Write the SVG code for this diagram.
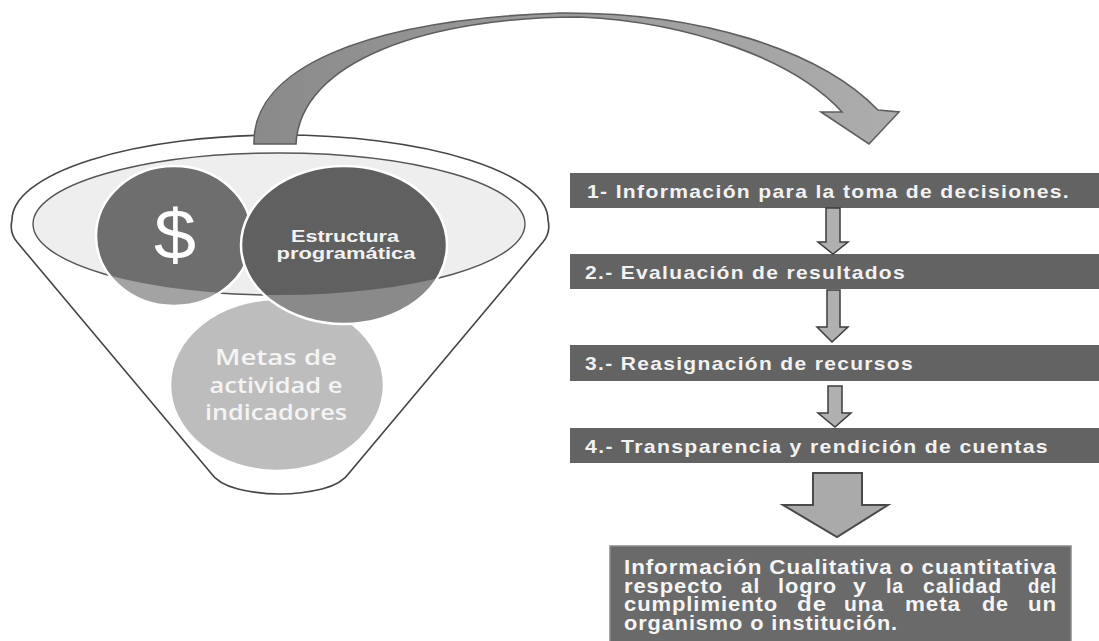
<svg xmlns="http://www.w3.org/2000/svg" width="1099" height="641" viewBox="0 0 1099 641">
<style>
.bar{fill:#636363;}
.bartxt{font-family:"Liberation Sans",Arial,sans-serif;font-weight:bold;font-size:19px;fill:#f2f2f2;letter-spacing:1.2px;}
.boxtxt{font-family:"Liberation Sans",Arial,sans-serif;font-weight:bold;font-size:19.5px;fill:#f5f5f5;letter-spacing:0.8px;}
.small{fill:#b0b0b0;stroke:#3c3c3c;stroke-width:1.5;stroke-linejoin:miter;}
.ring{fill:none;stroke:#ffffff;stroke-width:2.5;}
</style>
<defs>
<clipPath id="inner"><ellipse cx="279" cy="224" rx="246" ry="71"/></clipPath>
<linearGradient id="arrowGrad" x1="250" y1="0" x2="900" y2="0" gradientUnits="userSpaceOnUse">
<stop offset="0" stop-color="#8a8a8a"/>
<stop offset="1" stop-color="#adadad"/>
</linearGradient>
</defs>
<rect width="1099" height="641" fill="#ffffff"/>

<g id="funnel">
<path d="M 17,242 Q 9,232 12,220 A 268 85 0 0 1 548,220 Q 551,232 543,242 L 350,472 Q 342,484 322,489 Q 280,499 238,489 Q 218,484 210,472 Z" fill="#ffffff" stroke="#454545" stroke-width="1.6"/>
<ellipse cx="279" cy="224" rx="246" ry="71" fill="#eeeeee" stroke="#555555" stroke-width="1.4"/>
</g>

<g id="metas">
<ellipse cx="277" cy="385" rx="107" ry="86" fill="#bdbdbd"/>
<ellipse cx="277" cy="385" rx="107" ry="86" class="ring"/>
<g font-family="'Open Sans','Noto Sans',sans-serif" font-size="22" font-weight="600" fill="#f4f4f4" text-anchor="middle">
<text x="276" y="365" textLength="122" lengthAdjust="spacingAndGlyphs">Metas  de</text>
<text x="276" y="393" textLength="133" lengthAdjust="spacingAndGlyphs">actividad e</text>
<text x="276" y="420" textLength="142" lengthAdjust="spacingAndGlyphs">indicadores</text>
</g>
</g>

<g id="dinero">
<ellipse cx="174" cy="236" rx="78" ry="70" fill="#a3a3a3"/>
<ellipse cx="174" cy="236" rx="78" ry="70" fill="#6e6e6e" clip-path="url(#inner)"/>
<ellipse cx="174" cy="236" rx="78" ry="70" class="ring"/>
<text x="175" y="259" font-family="'Liberation Sans',Arial,sans-serif" font-size="70" fill="#ffffff" text-anchor="middle" textLength="42" lengthAdjust="spacingAndGlyphs">$</text>
</g>

<g id="estructura">
<ellipse cx="344" cy="245" rx="103" ry="79" fill="#8a8a8a"/>
<ellipse cx="344" cy="245" rx="103" ry="79" fill="#606060" clip-path="url(#inner)"/>
<ellipse cx="344" cy="245" rx="103" ry="79" class="ring"/>
<g font-family="'Liberation Sans',Arial,sans-serif" font-size="16" font-weight="bold" fill="#f2f2f2" text-anchor="middle">
<text x="345" y="242" textLength="108" lengthAdjust="spacingAndGlyphs">Estructura</text>
<text x="346" y="259" textLength="139" lengthAdjust="spacingAndGlyphs">programática</text>
</g>
</g>

<g id="paso1">
<rect class="bar" x="570" y="173" width="529" height="35"/>
<text class="bartxt" x="587" y="198" textLength="483" lengthAdjust="spacingAndGlyphs">1- Información para la toma de decisiones.</text>
</g>
<g id="paso2">
<rect class="bar" x="570" y="254" width="529" height="35"/>
<text class="bartxt" x="585" y="279" textLength="321" lengthAdjust="spacingAndGlyphs">2.- Evaluación de resultados</text>
</g>
<g id="paso3">
<rect class="bar" x="570" y="345" width="529" height="36"/>
<text class="bartxt" x="585" y="370" textLength="329" lengthAdjust="spacingAndGlyphs">3.- Reasignación de recursos</text>
</g>
<g id="paso4">
<rect class="bar" x="570" y="428" width="529" height="35"/>
<text class="bartxt" x="585" y="453" textLength="464" lengthAdjust="spacingAndGlyphs">4.- Transparencia y rendición de cuentas</text>
</g>

<g id="resultado">
<rect x="610" y="546" width="461" height="100" fill="#6a6a6a" stroke="#8a8a8a" stroke-width="1.5"/>
<g class="boxtxt">
<text x="624" y="574" textLength="433" lengthAdjust="spacingAndGlyphs">Información Cualitativa o cuantitativa</text>
<text x="624" y="592.5" textLength="99" lengthAdjust="spacingAndGlyphs">respecto</text>
<text x="741" y="592.5" textLength="19" lengthAdjust="spacingAndGlyphs">al</text>
<text x="778" y="592.5" textLength="59" lengthAdjust="spacingAndGlyphs">logro</text>
<text x="853" y="592.5" textLength="14" lengthAdjust="spacingAndGlyphs">y</text>
<text x="886" y="592.5" textLength="18" lengthAdjust="spacingAndGlyphs">la</text>
<text x="923" y="592.5" textLength="79" lengthAdjust="spacingAndGlyphs">calidad</text>
<text x="1028" y="592.5" textLength="29" lengthAdjust="spacingAndGlyphs">del</text>
<text x="624" y="611" textLength="154" lengthAdjust="spacingAndGlyphs">cumplimiento</text>
<text x="797" y="611" textLength="30" lengthAdjust="spacingAndGlyphs">de</text>
<text x="844" y="611" textLength="40" lengthAdjust="spacingAndGlyphs">una</text>
<text x="905" y="611" textLength="56" lengthAdjust="spacingAndGlyphs">meta</text>
<text x="982" y="611" textLength="27" lengthAdjust="spacingAndGlyphs">de</text>
<text x="1028" y="611" textLength="29" lengthAdjust="spacingAndGlyphs">un</text>
<text x="624" y="629.5" textLength="274" lengthAdjust="spacingAndGlyphs">organismo o institución.</text>
</g>
</g>

<g id="connectors">
<path d="M 254,144 C 252,70 360,20 560,13 C 700,12 820,50 878,110 L 899,112 L 869,144 L 821,112 L 842,112 C 795,60 690,22 580,17 C 430,17 300,60 296,144 Z" fill="url(#arrowGrad)" stroke="#5e5e5e" stroke-width="1.6" stroke-linejoin="miter"/>
<path class="small" d="M 826,208 L 840,208 L 840,242 L 848,242 L 833,254 L 818,242 L 826,242 Z"/>
<path class="small" d="M 827,290 L 840,290 L 840,327 L 848,327 L 832,342 L 817,327 L 827,327 Z"/>
<path class="small" d="M 828,386 L 842,386 L 842,413 L 851,413 L 835,427 L 818,413 L 828,413 Z"/>
<path d="M 813,473 L 862,473 L 862,505 L 888,505 L 837,537 L 783,505 L 813,505 Z" fill="#aaaaaa" stroke="#4a4a4a" stroke-width="2"/>
</g>
</svg>
